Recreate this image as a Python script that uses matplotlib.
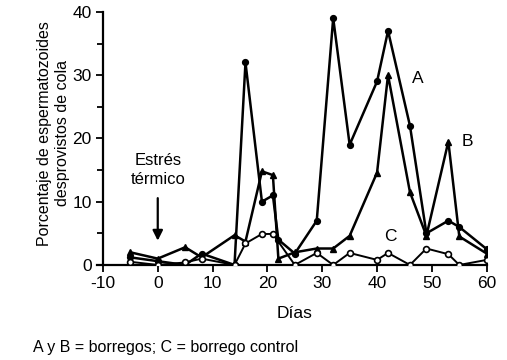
import matplotlib
matplotlib.use("Agg")
import matplotlib.pyplot as plt
from matplotlib.ticker import MultipleLocator

plt.rcParams['font.family'] = ['Liberation Sans', 'DejaVu Sans']
plt.rcParams['axes.unicode_minus'] = False

days_ab = [-5, 0, 5, 8, 14, 16, 19, 21, 22, 25, 29, 32, 35, 40, 42, 46, 49, 53, 55, 60]
serie_a = [1.2, 0.6, 0, 1.8, 0, 32, 10, 11, 4, 1.8, 7, 39, 19, 29, 37, 22, 5, 7, 6, 2.5]
serie_b = [2.0, 1.0, 2.8, 1.2, 4.7, 3.7, 14.8, 14.2, 1.0, 2.0, 2.6, 2.6, 4.6, 14.6, 30, 11.5, 4.6, 19.5, 4.5, 1.8]
days_c = [-5, 0, 5, 8, 14, 16, 19, 21, 25, 29, 32, 35, 40, 42, 46, 49, 53, 55, 60]
serie_c = [0.5, 0, 0.4, 1.0, 0, 3.4, 4.9, 4.9, 0, 1.9, 0, 1.9, 0.8, 1.9, 0, 2.6, 1.7, 0, 0.8]

xticks = [-10, 0, 10, 20, 30, 40, 50, 60]
yticks = [0, 10, 20, 30, 40]

fig = plt.figure(figsize=(5.07, 3.6), dpi=100)
ax = fig.add_axes([0.203, 0.264, 0.757, 0.703])

lw = 1.8
ax.plot(days_ab, serie_a, color='black', lw=lw, marker='o', ms=4.2, mfc='black', mec='black', zorder=3)
ax.plot(days_ab, serie_b, color='black', lw=lw, marker='^', ms=5, mfc='black', mec='black', zorder=3)
ax.plot(days_c, serie_c, color='black', lw=1.4, marker='o', ms=4.2, mfc='white', mec='black', mew=1.2, zorder=4)

ax.set_xlim(-10, 60)
ax.set_ylim(0, 40)
ax.set_xticks(xticks)
ax.set_yticks(yticks)
ax.yaxis.set_minor_locator(MultipleLocator(5))
ax.xaxis.set_minor_locator(MultipleLocator(5))
ax.tick_params(axis='x', which='minor', length=0)
ax.tick_params(which='major', length=5, width=1.3, labelsize=12.5, direction='out', pad=3)
ax.tick_params(axis='y', which='minor', length=4, width=1.3)
for s in ['top', 'right']:
    ax.spines[s].set_visible(False)
for s in ['left', 'bottom']:
    ax.spines[s].set_linewidth(1.6)
ax.spines['bottom'].set_bounds(-11, 60)

ax.set_xlabel('Días', fontsize=12.5, labelpad=11)
ax.set_ylabel('Porcentaje de espermatozoides\ndesprovistos de cola', fontsize=11.5, linespacing=1.25)
ax.yaxis.set_label_coords(-0.085, 0.52)

ax.text(47.5, 29.5, 'A', fontsize=12.5, ha='center', va='center')
ax.text(56.5, 19.5, 'B', fontsize=12.5, ha='center', va='center')
ax.text(42.5, 4.5, 'C', fontsize=12.5, ha='center', va='center')
ax.text(0, 15.0, 'Estrés\ntérmico', fontsize=12, ha='center', va='center', linespacing=1.35)
ax.annotate('', xy=(0, 3.4), xytext=(0, 11.0),
            arrowprops=dict(arrowstyle='-|>', color='black', lw=1.6, mutation_scale=15))

fig.text(0.065, 0.035, 'A y B = borregos; C = borrego control', fontsize=11.5, ha='left', va='center')

fig.savefig('out.png', dpi=100)
